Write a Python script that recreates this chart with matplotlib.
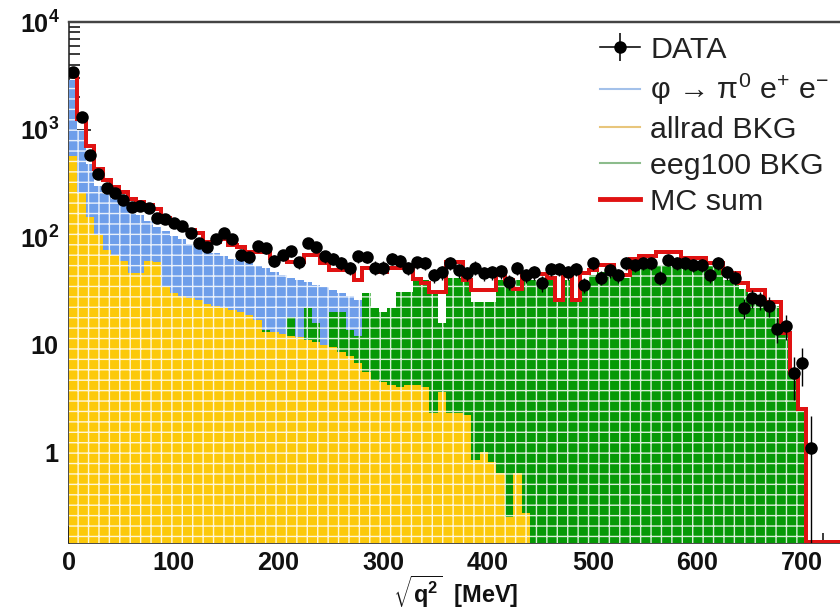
import numpy as np
import matplotlib
matplotlib.use("Agg")
import matplotlib.pyplot as plt
from matplotlib.lines import Line2D
from matplotlib.ticker import LogLocator, NullFormatter, MultipleLocator

plt.rcParams['font.family'] = ['Liberation Sans', 'DejaVu Sans']
plt.rcParams['mathtext.fontset'] = 'custom'
plt.rcParams['mathtext.rm'] = 'Liberation Sans'
plt.rcParams['mathtext.it'] = 'Liberation Sans:italic'
plt.rcParams['mathtext.bf'] = 'Liberation Sans:bold'
plt.rcParams['hatch.linewidth'] = 0.8

# ---- histogram contents: 8 MeV bins starting at 0 MeV ----
bin_width = 8.0

signal_phi = [2900, 1000, 480, 300, 250, 225, 200, 180, 160, 140,
              125, 113, 103, 95, 86, 79, 75, 71, 67, 63,
              60, 57, 54, 51, 47, 44, 42, 40, 38, 36,
              34, 32, 30, 28, 26, 24, 21, 18, 17, 16,
              15.5, 15, 14.5, 14, 13.5, 13, 12.5, 12, 11.5, 11,
              10.5, 10, 9.6, 9.2, 8.8, 8.4, 8.0, 7.6, 7.2, 6.8,
              6.5, 6.2, 5.9, 5.6, 5.3, 5.0, 4.7, 4.4, 4.1, 3.8,
              3.5, 3.2, 3.0, 2.8, 2.6, 2.4, 2.2, 2.0, 1.8, 1.6,
              1.4, 1.2, 1.0, 0.9, 0.8, 0.7, 0.5, 0.3, 0, 0,
              0, 0, 0]

allrad_bkg = [570, 257, 153, 104, 75, 68, 60, 46, 46, 60,
              58, 34, 30, 28, 27, 26, 24, 23, 22, 21,
              20, 19, 17, 13, 13, 12.5, 12, 11.7, 11, 10.5,
              10, 9.5, 8.5, 7.8, 6.7, 5.5, 4.7, 4.5, 4.2, 4.0,
              4.2, 4.2, 4.0, 2.3, 3.6, 2.3, 2.3, 2.2, 0.84, 1.0,
              0.8, 0.64, 0.25, 0.64, 0.27, 0, 0, 0, 0, 0,
              0, 0, 0, 0, 0, 0, 0, 0, 0, 0,
              0, 0, 0, 0, 0, 0, 0, 0, 0, 0,
              0, 0, 0, 0, 0, 0, 0, 0, 0, 0,
              0, 0, 0]

eeg100_bkg = [3, 3, 3, 3, 3, 3, 3, 4, 4, 4,
              4, 5, 5, 5, 6, 6, 6, 7, 7, 8,
              8, 9, 9, 13.6, 10, 11, 18, 11, 22, 16,
              9, 20, 20, 13.6, 12, 30, 22, 20, 22, 31,
              31, 40, 40, 31, 16, 42, 42, 42, 25, 25,
              25, 40, 40, 40, 40, 40, 38, 40, 26, 40,
              25, 37, 44, 47, 47, 42, 42, 55, 55, 55,
              55, 58, 60, 58, 58, 58, 54, 54, 40, 40,
              33, 28, 28, 23, 23, 13, 5.4, 2.5, 0, 0,
              0, 0, 0]

mc_sum = [3500, 1250, 700, 430, 340, 290, 260, 228, 210, 200,
          183, 150, 135, 125, 115, 108, 90, 90, 95, 85,
          81, 72, 72, 72, 64, 64, 58, 58, 68, 68,
          57, 49, 49, 49, 40, 52, 52, 47, 52, 52,
          52, 41, 37, 31, 31, 58, 58, 40, 32, 32,
          32, 49, 40, 33, 45, 45, 45, 42, 26, 45,
          26, 46, 49, 55, 55, 44, 44, 62, 66, 66,
          72, 72, 72, 64, 64, 64, 57, 57, 46, 46,
          37, 32, 32, 25, 25, 12.8, 5.4, 2.5, 0, 0,
          0, 0, 0]

data_counts = [3400, 1300, 580, 385, 285, 257, 221, 190, 193, 186,
               150, 147, 135, 127, 109, 88, 81, 96, 109, 96,
               68, 65, 82, 79, 60, 68, 74, 58, 88, 81,
               66, 63, 57, 51, 66, 65, 52, 52, 63, 60,
               51, 58, 57, 44, 47, 57, 49, 46, 52, 46,
               47, 48, 38, 51, 44, 47, 37, 50, 50, 47,
               50, 36, 57, 42, 49, 44, 57, 55, 57, 57,
               42, 61, 57, 57, 55, 55, 44, 57, 47, 42,
               22, 27, 26, 23, 14, 15, 5.4, 6.7, 1.1]

x_ticks = [0, 100, 200, 300, 400, 500, 600, 700]
x_tick_labels = ['0', '100', '200', '300', '400', '500', '600', '700']
y_ticks = [1, 10, 100, 1000, 10000]
y_tick_labels = [r'$\mathbf{1}$', r'$\mathbf{10}$', r'$\mathbf{10^{2}}$',
                 r'$\mathbf{10^{3}}$', r'$\mathbf{10^{4}}$']

legend_labels = ['DATA', r'φ → π$^{0}$ e$^{+}$ e$^{-}$', 'allrad BKG',
                 'eeg100 BKG', 'MC sum']

# ---- figure ----
DPI = 125
fig = plt.figure(figsize=(840 / DPI, 609 / DPI), dpi=DPI)
W, H = 840.0, 609.0
ax = fig.add_axes([69 / W, (H - 543) / H, (W - 69) / W, (543 - 22) / H])

ymin, ymax = 0.1424, 1.0e4
xmin, xmax = 0.0, 736.0

n_bins = len(mc_sum)
edges = np.arange(n_bins + 1) * bin_width
floor = 1e-3


def filled(values, color, z):
    v = np.maximum(np.asarray(values, float), floor)
    ax.stairs(v, edges, baseline=floor, fill=True, facecolor=color,
              edgecolor=(1, 1, 1, 0.85), linewidth=0, hatch='++', zorder=z)


# back to front: signal, eeg100, allrad
filled(signal_phi, '#6e9eea', 1.0)
filled(eeg100_bkg, '#069906', 1.1)
filled(allrad_bkg, '#fcc90a', 1.2)

mc = np.maximum(np.asarray(mc_sum, float), ymin * 1.03)
ax.stairs(mc, edges, baseline=None, color='#e01212', linewidth=2.3, zorder=2)

data = np.asarray(data_counts, float)
centers = (np.arange(len(data)) + 0.5) * bin_width
data_err = np.sqrt(data)
ax.errorbar(centers, data, yerr=data_err, fmt='o', color='black', ms=6.2,
            elinewidth=0.8, capsize=0, zorder=3)

ax.set_yscale('log')
ax.set_xlim(xmin, xmax)
ax.set_ylim(ymin, ymax)

ax.set_yticks(y_ticks)
ax.set_yticklabels(y_tick_labels)
ax.yaxis.set_minor_locator(LogLocator(base=10, subs=np.arange(2, 10)))
ax.yaxis.set_minor_formatter(NullFormatter())
ax.set_xticks(x_ticks)
ax.set_xticklabels(x_tick_labels)
ax.xaxis.set_minor_locator(MultipleLocator(20))

ax.tick_params(axis='both', which='both', direction='in', color='#222222',
               width=1.0, labelsize=14.5, labelcolor='#111111')
ax.tick_params(axis='y', which='major', length=12.5, pad=5.5)
ax.tick_params(axis='y', which='minor', length=6.5)
ax.tick_params(axis='x', which='major', length=10, pad=4.5)
ax.tick_params(axis='x', which='minor', length=5.5)
for lab in ax.get_xticklabels():
    lab.set_fontweight('bold')
ax.tick_params(top=False, right=False)
ax.set_axisbelow(True)

for side in ('left', 'bottom'):
    ax.spines[side].set_zorder(0.5)
    ax.spines[side].set_color('#333333')
    ax.spines[side].set_linewidth(1.0)
ax.spines['right'].set_visible(False)
ax.spines['top'].set_color('#444444')
ax.spines['top'].set_linewidth(1.4)
ax.spines['top'].set_zorder(4)

fig.text(456 / W, (H - 603) / H, r'$\sqrt{\mathbf{q^{2}}}$  [MeV]',
         ha='center', va='baseline', fontsize=13.5, fontweight='bold',
         color='#111111')

# legend key for the data: horizontal bar, vertical error bar and dot
data_key = (Line2D([], [], color='black', lw=0.9),
            Line2D([], [], color='black', marker='|', ms=16, mew=0.9, ls='none'),
            Line2D([], [], color='black', marker='o', ms=6.2, ls='none'))
handles = [data_key,
           Line2D([], [], color='#a3c1ea', lw=1.2),
           Line2D([], [], color='#e8c67c', lw=1.2),
           Line2D([], [], color='#8cbc8c', lw=1.2),
           Line2D([], [], color='#e01212', lw=2.8)]
leg = fig.legend(handles, legend_labels, loc='upper left',
                 bbox_to_anchor=(600 / W, 1 - 36 / H),
                 bbox_transform=fig.transFigure, frameon=False,
                 fontsize=17.5, handlelength=1.32, handletextpad=0.33,
                 labelspacing=0.27, borderpad=0, borderaxespad=0)
for t in leg.get_texts():
    t.set_color('#222222')

fig.savefig('out.png', dpi=DPI)
